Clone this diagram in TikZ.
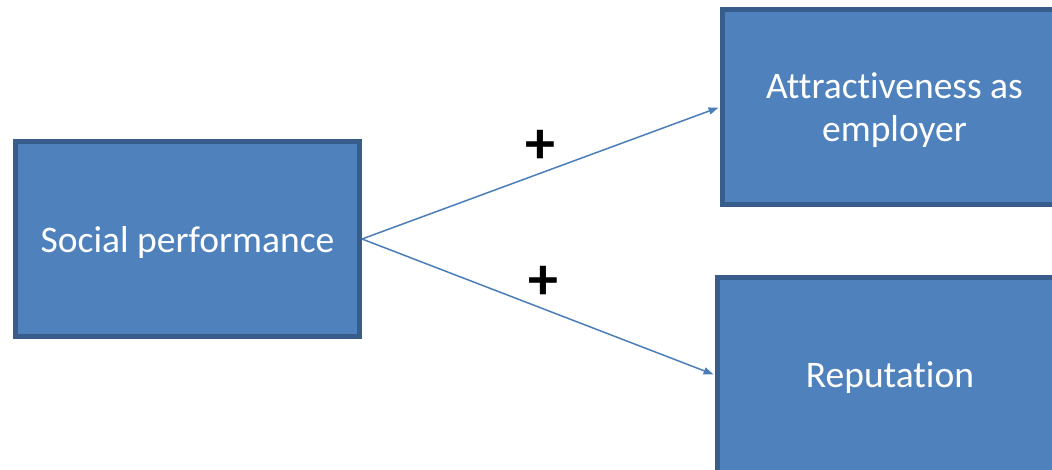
\documentclass[tikz,border=0pt]{standalone}
\usepackage{fontspec}
\setmainfont[Ligatures=NoCommon]{Carlito}
\usetikzlibrary{arrows.meta}
\definecolor{boxfill}{HTML}{4F81BD}
\definecolor{boxline}{HTML}{385D8A}
\definecolor{linkcol}{HTML}{4A7EBB}
\begin{document}
\begin{tikzpicture}[x=1pt,y=-1pt,
  box/.style={draw=boxline, fill=boxfill, line width=5pt, text=white,
    align=center, font=\fontsize{37.5}{43}\selectfont, inner sep=0pt,
    text depth=0pt, minimum height=195pt},
  link/.style={draw=linkcol, line width=1.5pt,
    -{Triangle[length=10pt,width=7pt]}, shorten >=1.5pt},
  sign/.style={font=\fontsize{60}{60}\selectfont\bfseries, text=black, inner sep=0pt}
]
\useasboundingbox (0,0) rectangle (1052,470);
\clip (0,0) rectangle (1052,470);

% cause and its two effects
\node[box, minimum width=344pt] (soc) at (187.5,239) {Social performance};
\node[box, minimum width=344pt] (att) at (894.5,107) {Attractiveness as\\employer};
\node[box, minimum width=345pt] (rep) at (890,375) {Reputation};

% positive influences
\draw[link] (soc.east) -- (att.west);
\draw[link] (soc.east) -- (rep.west);
\node[sign] (p1) at (540,147) {+};
\node[sign] (p2) at (543,283) {+};
\end{tikzpicture}
\end{document}
